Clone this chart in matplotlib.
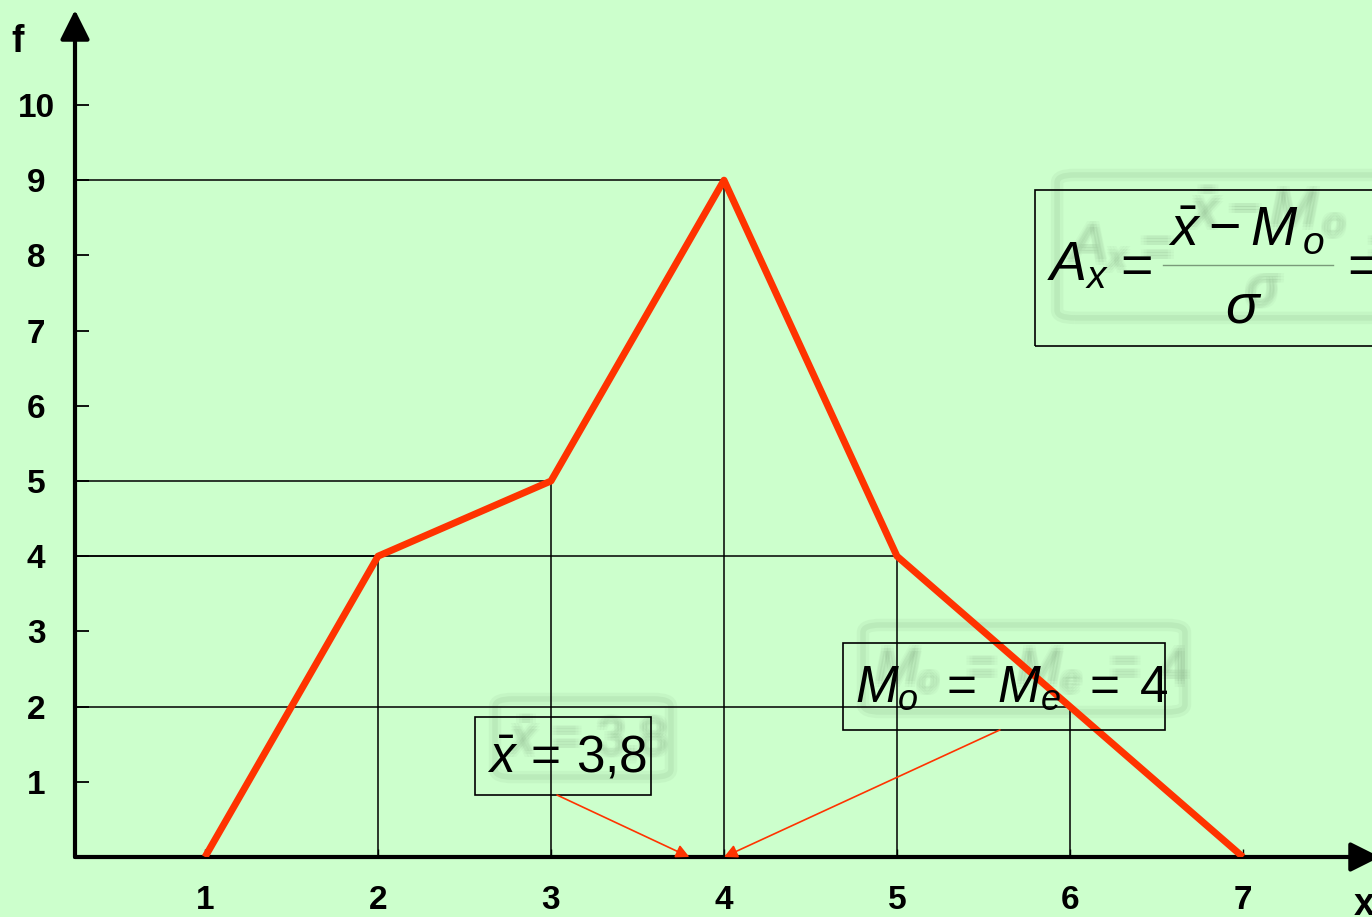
import matplotlib
matplotlib.use('Agg')
import matplotlib.pyplot as plt
from matplotlib.patches import Rectangle, FancyBboxPatch
from matplotlib.transforms import offset_copy

# дані полігону частот
x_vals = [1, 2, 3, 4, 5, 6, 7]
f_vals = [0, 4, 5, 9, 4, 2, 0]
y_ticks = [1, 2, 3, 4, 5, 6, 7, 8, 9, 10]
x_mean = 3.8
mode_val = 4

plt.rcParams['mathtext.fontset'] = 'custom'
plt.rcParams['mathtext.rm'] = 'Liberation Sans'
plt.rcParams['mathtext.it'] = 'Liberation Sans:italic'
plt.rcParams['mathtext.bf'] = 'Liberation Sans:bold'
plt.rcParams['font.family'] = ['Liberation Sans', 'DejaVu Sans']

bg = '#CCFFCC'
red = '#FF3300'
W, H = 1372, 917

fig = plt.figure(figsize=(W / 100, H / 100), dpi=100, facecolor=bg)
ax = fig.add_axes([75 / W, (H - 857) / H, (1380 - 75) / W, (857 - 10) / H])
ax.set_facecolor(bg)
ax.set_xlim(0.2486, 7.792)
ax.set_ylim(0, 11.263)
for s in ax.spines.values():
    s.set_visible(False)

# осі зі стрілками
ax.annotate('', xy=(0, 1), xytext=(0, 0), xycoords='axes fraction',
            arrowprops=dict(arrowstyle='-|>', lw=3, color='k', mutation_scale=45,
                            shrinkA=0, shrinkB=0))
ax.annotate('', xy=(1, 0), xytext=(0, 0), xycoords='axes fraction',
            arrowprops=dict(arrowstyle='-|>', lw=3, color='k', mutation_scale=45,
                            shrinkA=0, shrinkB=0))

ax.set_xticks(x_vals)
ax.set_yticks(y_ticks)
ax.tick_params(axis='y', direction='in', length=10, width=1.3, pad=28, labelsize=24)
ax.tick_params(axis='x', direction='in', length=6, width=1.0, pad=20, labelsize=24)
for lab in ax.get_yticklabels():
    lab.set_fontweight('bold')
    lab.set_horizontalalignment('center')
for lab in ax.get_xticklabels():
    lab.set_fontweight('bold')

# допоміжні лінії до вершин
for xv, fv in zip(x_vals, f_vals):
    if fv > 0:
        ax.plot([ax.get_xlim()[0], xv], [fv, fv], color='k', lw=1.1, zorder=2)
        ax.plot([xv, xv], [0, fv], color='k', lw=1.1, zorder=2)

ax.plot(x_vals, f_vals, color=red, lw=5, zorder=4, solid_capstyle='butt')

# підписи осей
fig.text(18 / W, 1 - 42 / H, 'f', fontsize=27, fontweight='bold', ha='center', va='center')
fig.text(1354 / W, 1 - 905 / H, 'x', fontsize=27, fontweight='bold', ha='left', va='center')

shifts = [(20 + ox, 18 + oy) for ox in (-3, 0, 3) for oy in (-3, 0, 3)]


def blurred(x, y, s, **kw):
    # розмита тінь: кілька напівпрозорих копій зі зсувом
    for sx, sy in shifts:
        tr = offset_copy(ax.transData, fig=fig, x=sx, y=sy, units='dots')
        ax.text(x, y, s, transform=tr, color='#4d6b4d', alpha=0.04, zorder=1, **kw)


def blurred_box(x0, y0, w, h):
    for lw, a in ((9, 0.06), (4, 0.08)):
        ax.add_patch(FancyBboxPatch((x0, y0), w, h, boxstyle='round,pad=0,rounding_size=0.1',
                                    fill=False, ec='#4d6b4d', lw=lw, alpha=a,
                                    transform=offset_copy(ax.transData, fig=fig, x=20, y=18,
                                                          units='dots'),
                                    zorder=1))


# блок x̄ = 3,8
ax.add_patch(Rectangle((2.561, 0.824), 1.017, 1.038, fill=False, ec='k', lw=1.2, zorder=5))
txt = r'$\bar{x}\,=\,3{,}8$'
blurred(2.63, 1.117, txt, fontsize=37, ha='left', va='baseline')
blurred_box(2.561, 0.824, 1.017, 1.038)
ax.text(2.63, 1.117, txt, fontsize=37, ha='left', va='baseline', zorder=6)
ax.annotate('', xy=(x_mean, 0), xytext=(3.035, 0.824),
            arrowprops=dict(arrowstyle='-|>', color=red, lw=1.2, mutation_scale=20,
                            shrinkA=0, shrinkB=0), zorder=6)

# блок Mo = Me = 4
ax.add_patch(Rectangle((4.688, 1.689), 1.861, 1.157, fill=False, ec='k', lw=1.2, zorder=5))
txt = r'$M_{o}\;\,=\;M_{e}\;\,=\;4$'
blurred(4.757, 2.061, txt, fontsize=37, ha='left', va='baseline')
blurred_box(4.688, 1.689, 1.861, 1.157)
ax.text(4.757, 2.061, txt, fontsize=37, ha='left', va='baseline', zorder=6)
ax.annotate('', xy=(mode_val, 0), xytext=(5.595, 1.69),
            arrowprops=dict(arrowstyle='-|>', color=red, lw=1.2, mutation_scale=20,
                            shrinkA=0, shrinkB=0), zorder=6)

# формула асиметрії
ax.add_patch(Rectangle((5.798, 6.795), 3.0, 2.075, fill=False, ec='k', lw=1.2, zorder=5))
blurred_box(5.81, 6.93, 3.0, 1.9)
parts = [
    (5.867, 7.673, r'$A_x$', 'left', 'baseline'),
    (6.358, 7.846, r'$=$', 'center', 'center'),
    (6.566, 8.138, r'$\bar{x}\:-\:M_{\,o}$', 'left', 'baseline'),
    (7.006, 7.101, r'$\sigma$', 'center', 'baseline'),
    (7.55, 7.846, r'$=$', 'left', 'center'),
]
for px, py, s, ha, va in parts:
    blurred(px, py, s, fontsize=40, ha=ha, va=va)
for px, py, s, ha, va in parts:
    ax.text(px, py, s, fontsize=40, ha=ha, va=va, zorder=6)
ax.plot([6.538, 7.520], [7.872, 7.872], color='#7a9a7a', lw=1.0, zorder=6)

fig.savefig('out.png', dpi=100, facecolor=bg)
